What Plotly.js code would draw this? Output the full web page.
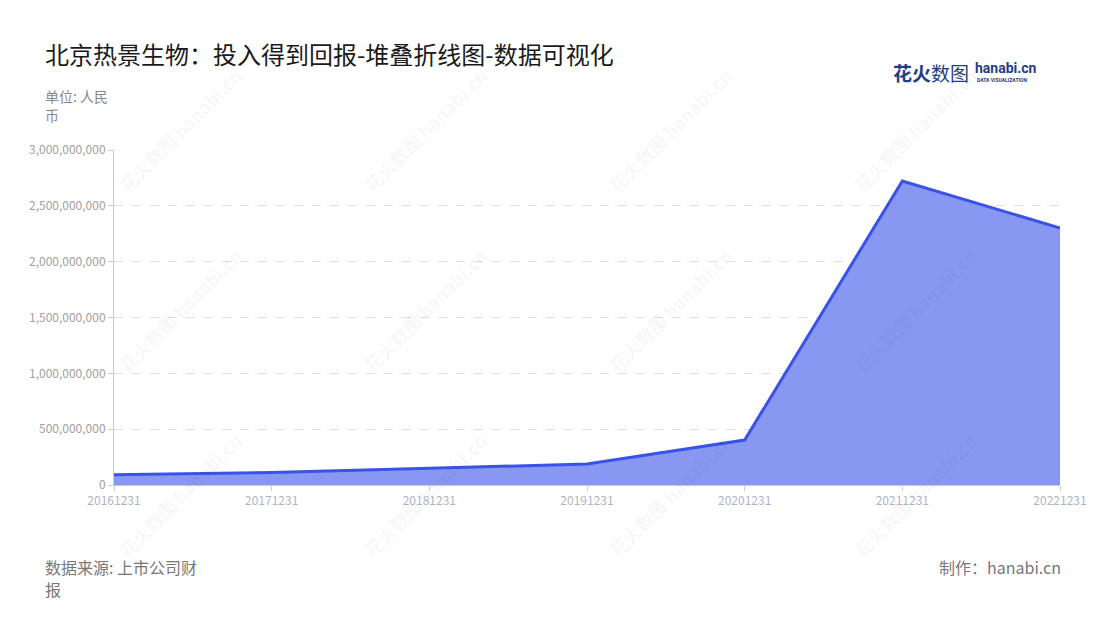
<!DOCTYPE html>
<html>
<head>
<meta charset="utf-8">
<script src="https://cdn.plot.ly/plotly-3.0.1.min.js"></script>
<style>
  html, body { margin: 0; padding: 0; background: #fff; }
  #chart { width: 1100px; height: 620px; }
</style>
</head>
<body>
<div id="chart"></div>
<script>
// 北京热景生物 — 投入得到回报 (stacked area line)
const periods = ['20161231', '20171231', '20181231', '20191231', '20201231', '20211231', '20221231'];
const returns = [92000000, 112000000, 150000000, 188000000, 403000000, 2722000000, 2301000000];
const yTicks = [0, 500000000, 1000000000, 1500000000, 2000000000, 2500000000, 3000000000];

// watermark centres, in page pixels (x, y from top)
const markX = [180, 425, 670, 915];
const markY = [130, 310, 495];

const FONT = '"Noto Sans CJK SC", "Noto Sans", sans-serif';
const W = 1100, H = 620;
const M = { l: 114, r: 40, t: 150, b: 135 };
const plotW = W - M.l - M.r;
const plotH = H - M.t - M.b;

// page pixels -> paper coords (paper spans the plot area)
function px(x) { return (x - M.l) / plotW; }
function py(y) { return (H - M.b - y) / plotH; }

function label(text, x, y, size, color, anchor) {
  return {
    xref: 'paper', yref: 'paper', x: px(x), y: py(y),
    xanchor: anchor || 'left', yanchor: 'middle',
    text, showarrow: false, borderpad: 0,
    font: { family: FONT, size, color },
  };
}

const trace = {
  x: periods,
  y: returns,
  type: 'scatter',
  mode: 'lines',
  fill: 'tozeroy',
  fillcolor: '#8898f2',
  line: { color: '#3a52e8', width: 3 },
  hoverinfo: 'x+y',
};

const annotations = [];

// faint repeated watermark
markY.forEach((my) => {
  markX.forEach((mx) => {
    annotations.push({
      xref: 'paper', yref: 'paper', x: px(mx), y: py(my),
      xanchor: 'center', yanchor: 'middle',
      text: '<b>花火数图 hanabi.cn</b>',
      showarrow: false, textangle: -45,
      font: { family: FONT, size: 18, color: 'rgba(0,0,0,0.055)' },
    });
  });
});

annotations.push(
  label('北京热景生物：投入得到回报-堆叠折线图-数据可视化', 44, 54, 24, '#1a1a1a'),
  label('单位: 人民', 44, 96, 14, '#888'),
  label('币', 44, 115, 14, '#888'),
  label('数据来源: 上市公司财', 44, 567, 16, '#777'),
  label('报', 44, 589, 16, '#777'),
  label('制作：hanabi.cn', 1062, 567, 16, '#777', 'right'),
  // logo
  label('<b>花火</b>数图', 892, 72, 19, '#1f3d85'),
  {
    xref: 'paper', yref: 'paper', x: px(973), y: py(68), xanchor: 'left', yanchor: 'middle',
    text: '<b>hanabi.cn</b>',
    showarrow: false, font: { family: 'Roboto, sans-serif', size: 14, color: '#1f3d85' },
  },
  {
    xref: 'paper', yref: 'paper', x: px(975), y: py(80), xanchor: 'left', yanchor: 'middle',
    text: '<b>DATA VISUALIZATION</b>',
    showarrow: false, font: { family: 'Roboto, sans-serif', size: 5, color: '#1f3d85' },
  }
);

const layout = {
  width: W,
  height: H,
  paper_bgcolor: '#fff',
  plot_bgcolor: '#fff',
  margin: M,
  showlegend: false,
  font: { family: FONT, color: '#999' },
  xaxis: {
    type: 'category',
    range: [0, periods.length - 1],
    showgrid: false,
    showline: true,
    linecolor: '#c8cce0',
    linewidth: 1,
    ticks: 'outside',
    ticklen: 5,
    tickcolor: '#c8cce0',
    tickfont: { family: FONT, size: 12, color: '#b0b3c6' },
    zeroline: false,
    fixedrange: true,
  },
  yaxis: {
    range: [0, 3000000000],
    tickvals: yTicks,
    tickformat: ',d',
    showgrid: true,
    gridcolor: '#dedede',
    griddash: 'dash',
    gridwidth: 1,
    showline: true,
    linecolor: '#cccccc',
    linewidth: 1,
    ticks: 'outside',
    ticklen: 5,
    tickcolor: '#cccccc',
    tickfont: { family: FONT, size: 12, color: '#a0a0a0' },
    zeroline: false,
    fixedrange: true,
  },
  annotations,
};

Plotly.newPlot('chart', [trace], layout, { displayModeBar: false, staticPlot: true });
</script>
</body>
</html>
